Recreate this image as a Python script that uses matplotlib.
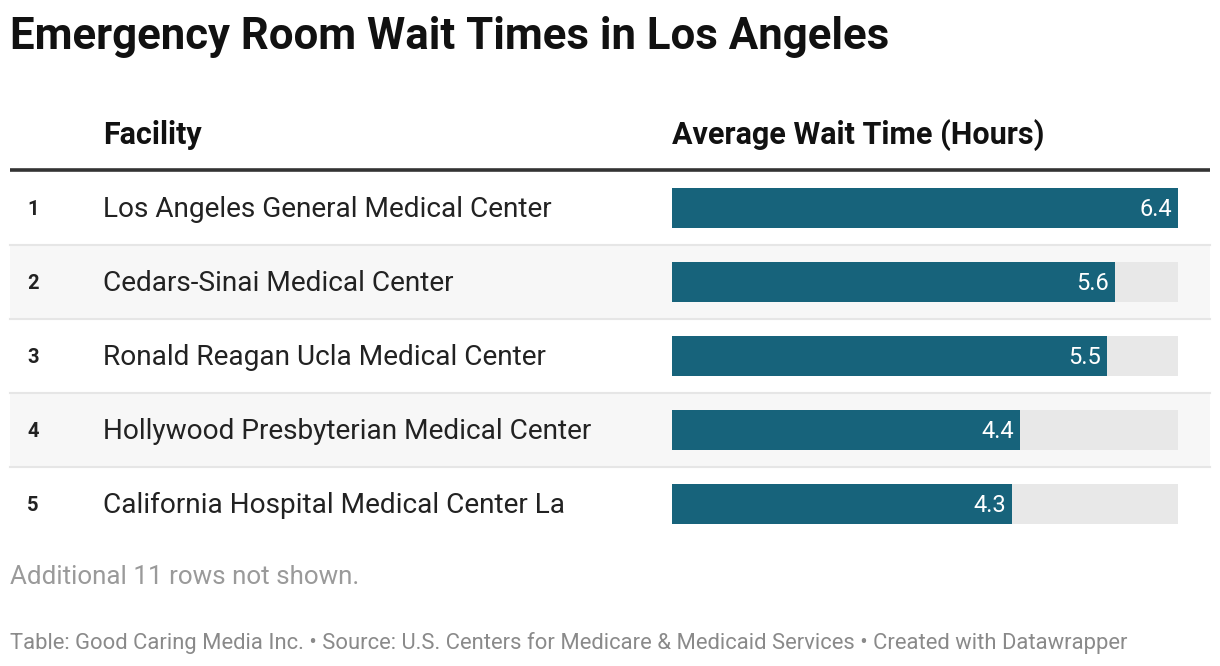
import numpy as np
import matplotlib.pyplot as plt

plt.rcParams['font.family'] = ['Roboto', 'DejaVu Sans']

# data
ranks = [1, 2, 3, 4, 5]
facilities = [
    "Los Angeles General Medical Center",
    "Cedars-Sinai Medical Center",
    "Ronald Reagan Ucla Medical Center",
    "Hollywood Presbyterian Medical Center",
    "California Hospital Medical Center La",
]
wait_hours = [6.4, 5.6, 5.5, 4.4, 4.3]

title = "Emergency Room Wait Times in Los Angeles"
col_headers = ["Facility", "Average Wait Time (Hours)"]
note = "Additional 11 rows not shown."
source = ("Table: Good Caring Media Inc. \u2022 Source: U.S. Centers for Medicare & "
          "Medicaid Services \u2022 Created with Datawrapper")

BAR = "#17637b"
BAR_BG = "#e8e8e8"
W, H = 1220, 666

fig = plt.figure(figsize=(W / 100, H / 100), dpi=100)
fig.patch.set_facecolor("white")

# layout axes in pixel coordinates
lay = fig.add_axes([0, 0, 1, 1])
lay.set_xlim(0, W)
lay.set_ylim(H, 0)
lay.axis("off")

row_top = 171
row_h = 74
n = len(facilities)

for i in range(n):
    y0 = row_top + i * row_h
    if i % 2 == 1:
        lay.axhspan(y0, y0 + row_h, xmin=10 / W, xmax=1210 / W, color="#f7f7f7", zorder=0, lw=0)
    if i < n - 1:
        lay.plot([10, 1210], [y0 + row_h, y0 + row_h], color="#e6e6e6", lw=1.5, zorder=1)

lay.plot([10, 1210], [row_top - 1, row_top - 1], color="#333333", lw=2.6, zorder=2,
         solid_capstyle="butt")

lay.text(10, 37, title, fontsize=31.5, fontweight="bold", color="#111111", va="center", ha="left")
lay.text(103, 135, col_headers[0], fontsize=22, fontweight="bold", color="#111111", va="center")
lay.text(672, 135, col_headers[1], fontsize=22, fontweight="bold", color="#111111", va="center")

for i, (r, name) in enumerate(zip(ranks, facilities)):
    yc = row_top + row_h / 2 + i * row_h + 1.5
    lay.text(27, yc, str(r), fontsize=14.5, fontweight="bold", color="#222222", va="center")
    lay.text(103, yc, name, fontsize=20.2, color="#222222", va="center")

lay.text(10, 577, note, fontsize=18.7, color="#9a9a9a", va="center")
lay.text(10, 643, source, fontsize=15.8, color="#8a8a8a", va="center")

# bar axes
bx = fig.add_axes([672 / W, 1 - (row_top + n * row_h) / H, 506 / W, n * row_h / H])
bx.set_xlim(0, max(wait_hours))
bx.set_ylim(n - 0.5, -0.5)
bx.axis("off")
ypos = np.arange(n)
bx.barh(ypos, [max(wait_hours)] * n, height=40 / row_h, color=BAR_BG, lw=0)
bx.barh(ypos, wait_hours, height=40 / row_h, color=BAR, lw=0)
for y, v in zip(ypos, wait_hours):
    bx.annotate(f"{v:.1f}", (v, y), xytext=(-6, -1), textcoords="offset pixels",
                ha="right", va="center", color="white", fontsize=17)

fig.savefig("out.png", dpi=100, facecolor="white")
